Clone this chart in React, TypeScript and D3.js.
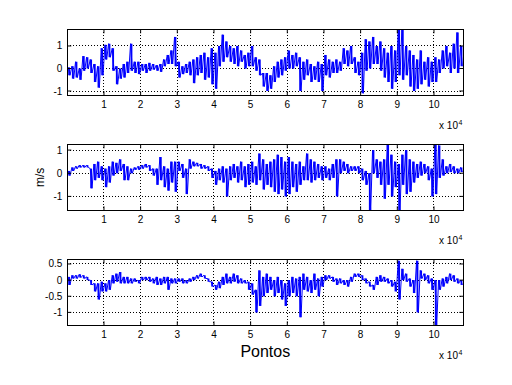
import { useEffect, useRef } from "react"
import * as d3 from "d3"

const WIDTH = 512
const HEIGHT = 385

// envelope of each block of 1000 samples (max / min)
const BIN = 1000

const p1Hi = [
  0.05, 0.1, 0.3, 0.0, 0.55, 0.5, 0.4, 0.2, 0.1, 0.9,
  1.05, 1.1, 0.9, 0.1, 0.0, 0.2, 0.3, 1.1, 0.3, 0.3,
  0.2, 0.2, 0.25, 0.2, 0.15, 0.2, 0.4, 0.6, 0.8, 1.4,
  0.3, 0.1, 0.2, 0.3, 0.4, 0.5, 0.6, 0.7, 0.5, 0.9,
  0.7, 1.0, 1.5, 1.2, 1.0, 0.9, 1.0, 0.8, 0.6, 0.7,
  1.0, 0.5, 0.4, -0.2, -0.2, -0.3, 0.1, 0.3, 0.4, 0.5,
  0.8, 0.6, 0.7, 0.5, 0.3, 0.4, 0.2, 0.1, 0.3, 0.2,
  0.6, 0.4, 0.3, 0.4, 0.3, 0.9, 0.8, 1.0, 0.5, 0.3,
  0.7, 1.3, 1.2, 1.4, 1.0, 1.2, 0.9, 0.7, 1.0, 0.8,
  1.75, 1.75, 1.0, 0.8, 0.6, 0.4, 0.8, 0.3, 0.5, 0.3,
  0.5, 0.4, 0.8, 1.0, 0.7, 1.1, 1.6, 1.0,
]
const p1Lo = [
  -0.3, -0.45, -0.4, -0.5, -0.1, 0.0, -0.2, -0.6, -0.85, -0.3,
  0.4, 0.5, -0.1, -0.7, -0.45, -0.4, -0.2, -0.1, -0.2, -0.25,
  -0.1, -0.2, -0.1, -0.05, -0.1, -0.15, 0.1, 0.2, 0.2, 0.1,
  -0.4, -0.25, -0.2, -0.3, -0.65, -0.3, -0.2, -0.5, -0.4, -0.7,
  -0.9, 0.1, 0.3, 0.5, 0.3, 0.2, 0.1, 0.3, 0.0, 0.1,
  0.1, -0.1, -0.3, -0.8, -1.0, -0.9, -0.6, -0.4, -0.3, -0.1,
  0.0, 0.0, 0.1, -1.0, -0.5, -0.3, -0.6, -0.5, -0.6, -1.0,
  -0.3, -0.4, -0.2, -0.2, -0.1, 0.2, 0.1, 0.2, -0.2, -0.3,
  -1.1, -0.1, 0.0, 0.2, 0.2, -0.1, -0.4, -0.6, -0.9, -0.6,
  -0.3, -0.5, -0.3, -0.8, -1.0, -0.9, -0.7, -0.5, -0.8, -0.6,
  -0.6, -0.2, 0.0, 0.1, -0.2, 0.0, -0.2, 0.1,
]

const p2Hi = [
  0.1, 0.25, 0.3, 0.35, 0.35, 0.35, 0.2, 0.4, 0.5, 0.3,
  0.2, 0.3, 0.5, 0.45, 0.6, 0.4, 0.3, 0.2, 0.25, 0.3,
  0.35, 0.4, 0.35, 0.2, 0.2, 0.7, 0.3, 0.2, 0.5, 0.5,
  0.5, 0.4, 0.2, 0.6, 0.5, 0.45, 0.4, 0.35, 0.3, 0.2,
  0.1, 0.2, 0.3, 0.2, 0.3, 0.4, 0.3, 0.5, 0.3, 0.4,
  0.5, 0.3, 0.85, 0.6, 0.4, 0.5, 0.6, 0.8, 0.7, 0.5,
  0.7, 0.5, 0.4, 0.5, 0.3, 0.85, 0.6, 0.5, 0.4, 0.3,
  0.3, 0.2, 0.4, 0.6, 0.6, 0.5, 0.4, 0.3, 0.3, 0.3,
  0.2, 0.1, 0.0, 1.0, 0.6, 0.5, 0.6, 1.25, 0.8, 0.5,
  0.4, 0.8, 1.0, 0.6, 0.5, 0.4, 0.5, 0.4, 0.3, 0.2,
  1.3, 1.2, 0.6, 0.3, 0.4, 0.3, 0.2, 0.25,
]
const p2Lo = [
  -0.1, 0.1, 0.2, 0.25, 0.25, 0.25, -0.65, -0.3, -0.2, -0.3,
  -0.6, -0.4, -0.1, 0.0, 0.1, -0.3, -0.3, 0.0, 0.15, 0.15,
  0.2, 0.25, 0.1, -0.1, -0.5, -0.3, -0.6, -0.75, -0.4, -0.8,
  0.1, -0.2, -0.9, 0.2, 0.3, 0.3, 0.2, 0.2, 0.1, -0.2,
  -0.5, -0.3, -0.4, -1.0, -0.3, -0.2, -0.4, -0.3, -0.6, -0.5,
  -0.4, -0.5, -0.3, -0.7, -0.5, -0.6, -0.8, -0.9, -0.7, -1.0,
  -0.9, -0.6, -0.8, -0.5, -0.3, -0.3, -0.4, -0.3, -0.2, -0.3,
  -0.2, -0.3, -0.2, -1.0, 0.0, 0.1, 0.0, 0.1, 0.1, 0.0,
  -0.3, -0.5, -1.6, 0.0, -0.2, -0.5, -1.1, -0.5, -1.0, -0.6,
  -1.6, -0.5, -0.9, -0.8, -0.4, -0.2, -0.1, 0.0, -0.3, -1.0,
  -0.9, -0.2, -0.1, 0.0, 0.05, 0.0, 0.0, 0.05,
]

const p3Hi = [
  0.1, 0.15, 0.15, 0.18, 0.15, 0.1, 0.0, -0.1, -0.1, -0.05,
  -0.1, 0.0, 0.15, 0.2, 0.25, 0.1, 0.1, 0.05, 0.05, 0.0,
  0.1, 0.1, 0.1, 0.05, 0.1, 0.05, 0.1, 0.1, 0.05, 0.05,
  0.05, 0.05, 0.0, 0.05, 0.1, 0.15, 0.2, 0.15, 0.05, -0.05,
  -0.15, -0.05, 0.1, 0.2, 0.1, 0.2, 0.15, 0.05, 0.0, -0.05,
  -0.1, -0.3, 0.3, 0.1, 0.2, 0.1, 0.0, 0.1, 0.0, -0.1,
  0.0, 0.1, 0.05, 0.1, 0.2, 0.1, 0.0, 0.2, 0.05, 0.1,
  0.15, 0.15, 0.1, 0.05, 0.05, 0.0, 0.0, 0.1, 0.2, 0.2,
  0.15, 0.05, -0.05, -0.15, 0.1, 0.15, 0.1, 0.05, 0.0, -0.05,
  0.6, 0.35, 0.2, 0.05, 0.0, 0.6, 0.3, 0.2, 0.15, 0.05,
  0.0, 0.0, 0.05, 0.1, 0.2, 0.15, 0.05, 0.0,
]
const p3Lo = [
  -0.15, 0.05, 0.05, 0.08, 0.05, 0.0, -0.15, -0.35, -0.6, -0.35,
  -0.35, -0.3, -0.1, -0.05, -0.1, -0.1, -0.1, -0.1, -0.05, -0.1,
  0.0, 0.0, -0.05, -0.1, -0.15, -0.15, -0.1, -0.3, -0.1, -0.1,
  -0.05, -0.1, -0.1, -0.05, 0.0, 0.05, 0.1, 0.05, -0.05, -0.2,
  -0.3, -0.25, -0.15, -0.1, -0.1, -0.05, -0.1, -0.1, -0.1, -0.3,
  -0.45, -1.0, -0.8, -0.5, -0.4, -0.3, -0.5, -0.4, -0.6, -0.8,
  -0.5, -0.4, -0.5, -1.15, -0.3, -0.35, -0.4, -0.3, -0.5, -0.2,
  0.0, 0.05, -0.05, -0.15, -0.1, -0.15, -0.2, -0.05, 0.1, 0.1,
  0.0, -0.1, -0.2, -0.3, -0.15, -0.05, -0.05, -0.1, -0.2, -0.35,
  -0.6, 0.0, -0.05, -0.2, -0.4, -1.0, 0.05, 0.0, -0.1, -0.3,
  -1.4, -0.3, -0.2, -0.1, 0.0, -0.05, -0.1, -0.15,
]

const xTickValues = [10000, 20000, 30000, 40000, 50000, 60000, 70000, 80000, 90000, 100000]
const xTickLabels = ["1", "2", "3", "4", "5", "6", "7", "8", "9", "10"]
const p1YTicks = [-1, 0, 1]
const p2YTicks = [-1, 0, 1]
const p3YTicks = [-1, -0.5, 0, 0.5]

const X_DOMAIN: [number, number] = [0, 108000]
const LEFT = 67.3
const RIGHT = 463.3
const PANEL_H = 66
const FONT = "Liberation Sans, Arial, Helvetica, sans-serif"
const BLUE = "#0000ff"

interface Panel {
  hi: number[]
  lo: number[]
  yDomain: [number, number]
  yTicks: number[]
  top: number
}

const panels: Panel[] = [
  { hi: p1Hi, lo: p1Lo, yDomain: [-1.19, 1.74], yTicks: p1YTicks, top: 29.3 },
  { hi: p2Hi, lo: p2Lo, yDomain: [-1.6, 1.25], yTicks: p2YTicks, top: 144.3 },
  { hi: p3Hi, lo: p3Lo, yDomain: [-1.4, 0.645], yTicks: p3YTicks, top: 259.3 },
]

export default function App() {
  const svgRef = useRef<SVGSVGElement | null>(null)

  useEffect(() => {
    if (!svgRef.current) return
    const svg = d3.select(svgRef.current)
    svg.selectAll("*").remove()

    const xScale = d3.scaleLinear().domain(X_DOMAIN).range([LEFT, RIGHT])

    panels.forEach((p, k) => {
      const bottom = p.top + PANEL_H
      const yScale = d3.scaleLinear().domain(p.yDomain).range([bottom, p.top])
      const g = svg.append("g")
      const clipId = `clip-${k}`

      g.append("clipPath")
        .attr("id", clipId)
        .append("rect")
        .attr("x", LEFT)
        .attr("y", p.top)
        .attr("width", RIGHT - LEFT)
        .attr("height", PANEL_H)

      // dotted grid
      g.selectAll(".vgrid")
        .data(xTickValues)
        .join("line")
        .attr("x1", (d) => xScale(d))
        .attr("x2", (d) => xScale(d))
        .attr("y1", p.top)
        .attr("y2", bottom)
        .attr("stroke", "#000")
        .attr("stroke-width", 1)
        .attr("stroke-dasharray", "1 2")
        .attr("shape-rendering", "crispEdges")
      g.selectAll(".hgrid")
        .data(p.yTicks)
        .join("line")
        .attr("x1", LEFT)
        .attr("x2", RIGHT)
        .attr("y1", (d) => yScale(d))
        .attr("y2", (d) => yScale(d))
        .attr("stroke", "#000")
        .attr("stroke-width", 1)
        .attr("stroke-dasharray", "1 2")
        .attr("shape-rendering", "crispEdges")

      const plot = g.append("g").attr("clip-path", `url(#${clipId})`)

      // min-max bar of each block
      plot
        .selectAll(".bar")
        .data(p.hi)
        .join("rect")
        .attr("x", (_, i) => xScale(i * BIN + 250))
        .attr("width", (_, i) => xScale(i * BIN + 750) - xScale(i * BIN + 250))
        .attr("y", (d) => yScale(d))
        .attr("height", (d, i) => yScale(p.lo[i]) - yScale(d))
        .attr("fill", BLUE)

      // signal path through max/min of each block
      const pts: [number, number][] = []
      p.hi.forEach((h, i) => {
        pts.push([i * BIN + 250, h])
        pts.push([i * BIN + 750, p.lo[i]])
      })
      const line = d3
        .line<[number, number]>()
        .x((d) => xScale(d[0]))
        .y((d) => yScale(d[1]))
      plot
        .append("path")
        .datum(pts)
        .attr("d", line)
        .attr("fill", "none")
        .attr("stroke", BLUE)
        .attr("stroke-width", 1)

      // ticks (inward, all four sides)
      const tl = 4
      xTickValues.forEach((v) => {
        const x = xScale(v)
        g.append("line").attr("x1", x).attr("x2", x).attr("y1", bottom).attr("y2", bottom - tl).attr("stroke", "#000")
        g.append("line").attr("x1", x).attr("x2", x).attr("y1", p.top).attr("y2", p.top + tl).attr("stroke", "#000")
      })
      p.yTicks.forEach((v) => {
        const y = yScale(v)
        g.append("line").attr("x1", LEFT).attr("x2", LEFT + tl).attr("y1", y).attr("y2", y).attr("stroke", "#000")
        g.append("line").attr("x1", RIGHT).attr("x2", RIGHT - tl).attr("y1", y).attr("y2", y).attr("stroke", "#000")
      })

      g.append("rect")
        .attr("x", LEFT)
        .attr("y", p.top)
        .attr("width", RIGHT - LEFT)
        .attr("height", PANEL_H)
        .attr("fill", "none")
        .attr("stroke", "#000")
        .attr("stroke-width", 1)
        .attr("shape-rendering", "crispEdges")

      // tick labels
      g.selectAll(".xlab")
        .data(xTickValues)
        .join("text")
        .attr("x", (d) => xScale(d))
        .attr("y", bottom + 12.5)
        .attr("text-anchor", "middle")
        .style("font-family", FONT)
        .style("font-size", "10px")
        .text((_, i) => xTickLabels[i])
      g.selectAll(".ylab")
        .data(p.yTicks)
        .join("text")
        .attr("x", LEFT - 5)
        .attr("y", (d) => yScale(d) + 3.5)
        .attr("text-anchor", "end")
        .style("font-family", FONT)
        .style("font-size", "10px")
        .text((d) => String(d))

      // exponent
      g.append("text")
        .attr("x", 458)
        .attr("y", bottom + 34)
        .attr("text-anchor", "end")
        .style("font-family", FONT)
        .style("font-size", "10px")
        .text("x 10")
      g.append("text")
        .attr("x", 458.5)
        .attr("y", bottom + 29.5)
        .style("font-family", FONT)
        .style("font-size", "7px")
        .text("4")
    })

    svg.append("text")
      .attr("transform", `translate(43.5,${panels[1].top + PANEL_H / 2}) rotate(-90)`)
      .attr("text-anchor", "middle")
      .style("font-family", FONT)
      .style("font-size", "12px")
      .text("m/s")

    svg.append("text")
      .attr("x", (LEFT + RIGHT) / 2)
      .attr("y", 357)
      .attr("text-anchor", "middle")
      .style("font-family", FONT)
      .style("font-size", "16px")
      .text("Pontos")
  }, [])

  return (
    <svg
      ref={svgRef}
      width={WIDTH}
      height={HEIGHT}
      style={{ position: "absolute", left: 0, top: 0, background: "#fff" }}
    ></svg>
  )
}
